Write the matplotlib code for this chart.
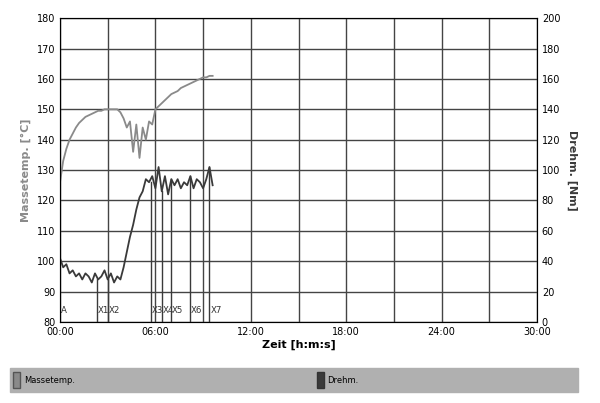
import matplotlib
matplotlib.use("Agg")
import matplotlib.pyplot as plt
from matplotlib.patches import Rectangle

t = [i*0.2 for i in range(49)]
temp = [126,133,137,140,142,144,145.5,146.5,147.5,148,148.5,149,149.5,149.5,150,150,150,150,150,149,
        147,144,146,136,145,134,144,140,146,145,150,151,152,153,154,155,155.5,156,157,157.5,
        158,158.5,159,159.5,160,160.5,160.5,161,161]
torque_left = [101,98,99,96,97,95,96,94,96,95,93,96,94,95,97,94,96,93,95,94,
               98,103,108,112,117,121,123,127,126,128,124,131,123,128,122,127,125,127,124,126,
               125,128,124,127,126,124,127,131,125]
torque = [2*(v-80) for v in torque_left]
markers = ["A","X1","X2","X3","X4","X5","X6","X7"]
marker_t = [0,2.33,3.0,5.7,6.4,7.0,8.2,9.4]
xticks = [0,6,12,18,24,30]
xticklabels = ["00:00","06:00","12:00","18:00","24:00","30:00"]

c_temp = "#8a8a8a"; c_tq = "#3a3a3a"
fig = plt.figure(figsize=(6,4.03), dpi=100)
ax = fig.add_axes([0.1,0.201,0.795,0.754])
ax2 = ax.twinx()
ax.set_xlim(0,30); ax.set_ylim(80,180)
ax2.set_ylim(0,200)
ax.set_xticks(xticks); ax.set_xticklabels(xticklabels, fontsize=7)
ax.set_xticks(range(0,31,3), minor=True)
ax.set_yticks(range(80,181,10))
ax2.set_yticks(range(0,201,20))
ax.tick_params(labelsize=7, length=0, which="both")
ax2.tick_params(labelsize=7, length=0)
ax.grid(True, which="both", color="#444", lw=1)
for s in ax.spines.values(): s.set_color("#555")
ax.plot(t, temp, color=c_temp, lw=1.3)
ax2.plot(t, torque, color=c_tq, lw=1.3)
for m, mt in zip(markers, marker_t):
    if mt > 0:
        idx = min(range(len(t)), key=lambda i: abs(t[i]-mt))
        ax2.plot([mt, mt], [0, torque[idx]], color=c_tq, lw=1)
    ax.text(mt+0.05, 83, m, fontsize=6.2, color="#333")
ax.set_xlabel("Zeit [h:m:s]", fontsize=8, fontweight="bold", labelpad=2)
ax.set_ylabel("Massetemp. [°C]", fontsize=8, fontweight="bold", color=c_temp)
ax2.set_ylabel("Drehm. [Nm]", fontsize=8, fontweight="bold", color=c_tq, rotation=270, labelpad=12)
fig.patches.append(Rectangle((0.017,0.027),0.947,0.06, transform=fig.transFigure, color="#b0b0b0"))
fig.patches.append(Rectangle((0.022,0.037),0.012,0.04, transform=fig.transFigure, facecolor=c_temp, edgecolor="#555"))
fig.text(0.04,0.057,"Massetemp.", fontsize=6, va="center")
fig.patches.append(Rectangle((0.528,0.037),0.012,0.04, transform=fig.transFigure, facecolor=c_tq, edgecolor="#333"))
fig.text(0.546,0.057,"Drehm.", fontsize=6, va="center")
fig.savefig("out.png", dpi=100)
